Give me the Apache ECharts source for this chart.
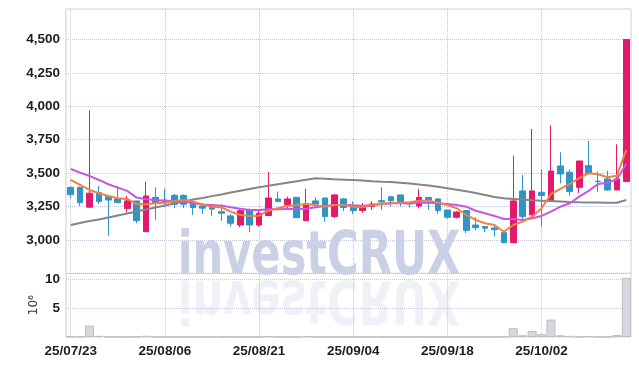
<!DOCTYPE html>
<html><head><meta charset="utf-8">
<script src="https://cdn.jsdelivr.net/npm/echarts@6/dist/echarts.min.js"></script>
<style>html,body{margin:0;padding:0;background:#fff}#c{width:639px;height:366px}</style>
</head><body><div id="c"></div>
<script>
const dates = ['25/07/23','25/07/24','25/07/25','25/07/28','25/07/29','25/07/30','25/07/31','25/08/01','25/08/04','25/08/05',
'25/08/06','25/08/07','25/08/08','25/08/11','25/08/12','25/08/13','25/08/14','25/08/18','25/08/19','25/08/20',
'25/08/21','25/08/22','25/08/25','25/08/26','25/08/27','25/08/28','25/08/29','25/09/01','25/09/02','25/09/03',
'25/09/04','25/09/05','25/09/08','25/09/09','25/09/10','25/09/11','25/09/12','25/09/15','25/09/16','25/09/17',
'25/09/18','25/09/19','25/09/22','25/09/23','25/09/24','25/09/25','25/09/26','25/09/29','25/09/30','25/10/01',
'25/10/02','25/10/10','25/10/13','25/10/14','25/10/15','25/10/16','25/10/17','25/10/20','25/10/21','25/10/22'];
// [open, close, low, high]
const candles = [
[3394,3339,3312,3399],[3394,3279,3254,3399],[3245,3350,3245,3968],[3354,3287,3269,3404],[3324,3299,3032,3337],
[3307,3279,3276,3406],[3236,3292,3205,3329],[3292,3144,3125,3292],[3062,3329,3062,3436],[3319,3276,3150,3394],
[3299,3287,3245,3384],[3334,3267,3238,3344],[3334,3267,3238,3340],[3276,3243,3187,3276],[3254,3238,3195,3276],
[3243,3231,3180,3269],[3212,3200,3144,3269],[3180,3125,3100,3195],[3112,3219,3095,3230],[3224,3112,3058,3237],
[3112,3200,3100,3230],[3183,3314,3183,3509],[3307,3287,3287,3362],[3262,3307,3225,3324],[3319,3167,3167,3319],
[3144,3269,3144,3382],[3292,3269,3238,3319],[3314,3175,3137,3314],[3175,3337,3165,3345],[3307,3243,3217,3314],
[3251,3221,3195,3288],[3221,3258,3204,3276],[3251,3269,3225,3290],[3294,3284,3225,3394],[3323,3293,3250,3330],
[3337,3276,3250,3337],[3279,3269,3245,3285],[3254,3318,3237,3380],[3318,3299,3225,3322],[3307,3221,3195,3312],
[3224,3170,3160,3224],[3170,3209,3160,3215],[3221,3072,3052,3221],[3112,3092,3075,3170],[3100,3088,3058,3105],
[3090,3077,3025,3112],[3055,2980,2975,3055],[2980,3292,2975,3631],[3367,3175,3144,3487],[3187,3367,3187,3831],
[3357,3332,3100,3531],[3292,3516,3292,3856],[3554,3494,3424,3656],[3507,3362,3332,3529],[3394,3591,3351,3591],
[3556,3499,3499,3741],[3440,3437,3360,3512],[3457,3374,3367,3519],[3374,3457,3374,3716],[3437,4500,3437,4500]];
const volume = [0.05,0.08,1.95,0.2,0.05,0.04,0.03,0.05,0.22,0.04,
0.03,0.03,0.02,0.03,0.02,0.03,0.03,0.04,0.03,0.04,
0.03,0.15,0.03,0.03,0.03,0.15,0.03,0.03,0.04,0.03,
0.02,0.03,0.02,0.04,0.03,0.03,0.02,0.04,0.03,0.03,
0.03,0.02,0.04,0.03,0.03,0.04,0.05,1.52,0.3,1.03,
0.5,3.0,0.3,0.2,0.05,0.15,0.03,0.05,0.35,10.2];
const maShort = [3449,3412,3374,3350,3329,3312,3307,3269,3267,3275,
3279,3292,3299,3287,3265,3249,3245,3212,3187,3180,
3182,3219,3237,3254,3262,3269,3262,3249,3262,3262,
3249,3245,3262,3269,3275,3279,3282,3294,3294,3279,
3262,3237,3187,3150,3125,3112,3062,3112,3137,3174,
3237,3344,3382,3419,3462,3499,3492,3469,3481,3674];
const maMid = [3531,3504,3479,3449,3417,3392,3367,3317,3305,3299,
3294,3292,3287,3275,3265,3262,3257,3245,3234,3224,
3224,3230,3230,3232,3232,3234,3245,3254,3262,3262,
3259,3257,3262,3269,3275,3275,3275,3279,3279,3275,
3269,3262,3249,3219,3200,3180,3157,3157,3150,3162,
3180,3212,3249,3275,3324,3367,3419,3429,3454,3569];
const maLong = [3112,3127,3142,3153,3168,3183,3198,3213,3228,3243,
3258,3273,3288,3303,3314,3328,3341,3355,3368,3382,
3394,3406,3417,3428,3439,3451,3462,3458,3454,3451,
3448,3445,3440,3436,3433,3428,3423,3415,3408,3398,
3387,3376,3365,3352,3337,3322,3312,3307,3302,3297,
3294,3291,3288,3284,3282,3281,3280,3279,3279,3299];

const FONT = "Liberation Sans";
const gridLine = {type:'dotted', color:'#c3c6da', width:1};
const tickLabel = {fontFamily: FONT, fontWeight:'bold', fontSize:13.5, color:'#1e1e1e'};
const UP = '#e3196b', DOWN = '#2f95c8';
const WM = '#cad0e6';
const wmStyle = {text:'investCRUX', fontFamily:'DejaVu Sans', fontSize:60, fontWeight:'bold', fill:WM, align:'center', verticalAlign:'middle'};

const chart = echarts.init(document.getElementById('c'), null, {renderer:'canvas'});
chart.setOption({
  animation:false,
  backgroundColor:'#ffffff',
  graphic:[
    {type:'text', x:319, y:258, scaleX:0.72, z:1, silent:true, style:Object.assign({}, wmStyle)},
    {type:'text', x:319, y:297, scaleX:0.72, scaleY:-1, z:1, silent:true, style:Object.assign({opacity:0.3}, wmStyle)}
  ],
  grid:[
    {left:66, right:8, top:9, bottom:92.6, show:true, borderColor:'#cfcfd6', borderWidth:1, backgroundColor:'transparent'},
    {left:66, right:8, top:273.4, bottom:29, show:true, borderColor:'#cfcfd6', borderWidth:1, backgroundColor:'transparent'}
  ],
  xAxis:[
    {type:'category', gridIndex:0, data:dates, boundaryGap:true,
     axisLine:{show:false}, axisTick:{show:false}, axisLabel:{show:false},
     splitLine:{show:true, interval:9, alignWithLabel:true, lineStyle:gridLine}},
    {type:'category', gridIndex:1, data:dates, boundaryGap:true,
     axisLine:{show:false}, axisTick:{show:false},
     axisLabel:Object.assign({interval:9, margin:7}, tickLabel),
     splitLine:{show:true, interval:9, alignWithLabel:true, lineStyle:gridLine}}
  ],
  yAxis:[
    {type:'value', gridIndex:0, min:2750, max:4728, interval:250,
     axisLine:{show:false}, axisTick:{show:false},
     axisLabel:Object.assign({showMinLabel:false, showMaxLabel:false, margin:6,
       formatter:v=>v.toLocaleString('en-US')}, tickLabel),
     splitLine:{show:true, showMinLine:false, showMaxLine:false, lineStyle:gridLine}},
    {type:'value', gridIndex:1, min:0, max:10.97, interval:5,
     name:'10\u2076', nameLocation:'middle', nameRotate:90, nameGap:26, nameMoveOverlap:false,
     nameTextStyle:{fontFamily:'DejaVu Sans', fontSize:12, color:'#333'},
     axisLine:{show:false}, axisTick:{show:false},
     axisLabel:Object.assign({showMinLabel:false, showMaxLabel:false, margin:6}, tickLabel),
     splitLine:{show:true, showMinLine:false, showMaxLine:false, lineStyle:gridLine}}
  ],
  series:[
    {type:'candlestick', xAxisIndex:0, yAxisIndex:0, data:candles, barWidth:'66%', z:3,
     itemStyle:{color:UP, color0:DOWN, borderColor:UP, borderColor0:DOWN, borderWidth:1}},
    {type:'line', xAxisIndex:0, yAxisIndex:0, data:maLong, symbol:'none', z:4,
     lineStyle:{color:'#858585', width:2}},
    {type:'line', xAxisIndex:0, yAxisIndex:0, data:maMid, symbol:'none', z:4,
     lineStyle:{color:'#c855e6', width:2}},
    {type:'line', xAxisIndex:0, yAxisIndex:0, data:maShort, symbol:'none', z:4,
     lineStyle:{color:'#ef8144', width:2}},
    {type:'bar', xAxisIndex:1, yAxisIndex:1, data:volume, barCategoryGap:'4%', z:3,
     itemStyle:{color:'#d7d7de', borderColor:'#bdbdc6', borderWidth:1}}
  ]
});
</script></body></html>
